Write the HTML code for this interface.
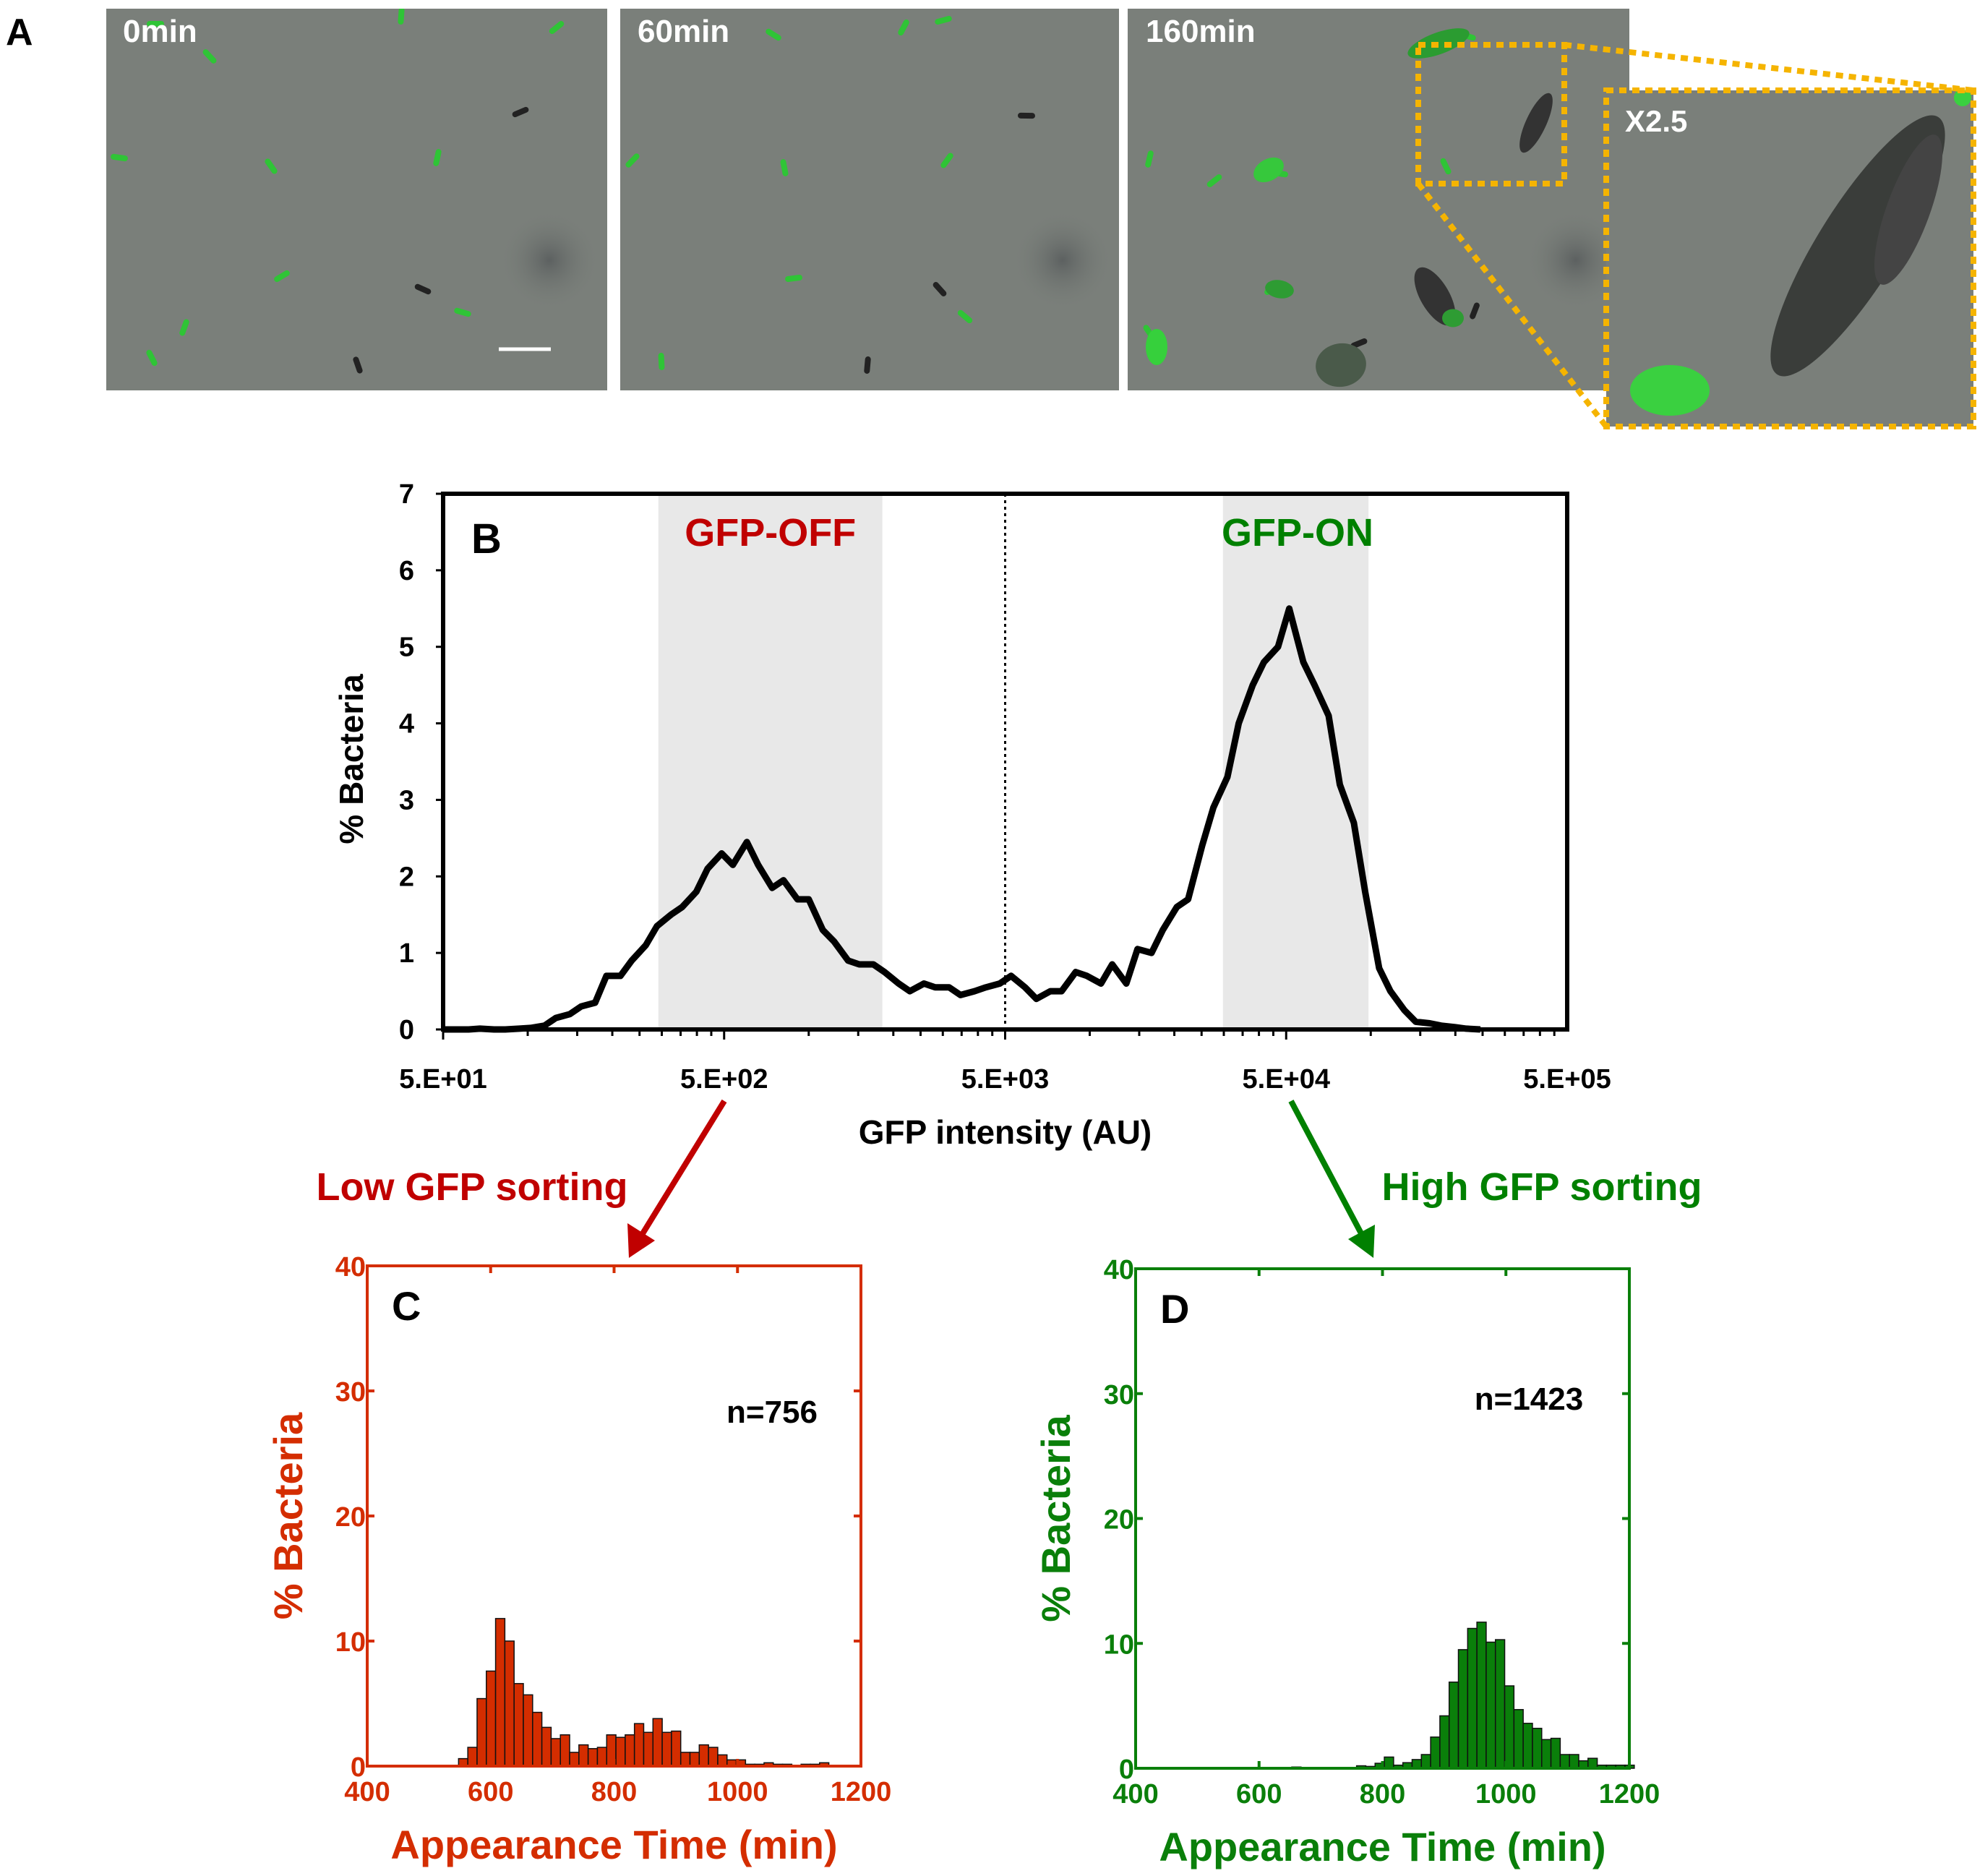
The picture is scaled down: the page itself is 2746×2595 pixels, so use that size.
<!DOCTYPE html>
<html><head><meta charset="utf-8"><style>
html,body{margin:0;padding:0;background:#fff}
svg{display:block}
text{font-family:"Liberation Sans",sans-serif;font-weight:bold}
</style></head><body>
<svg id="fig" width="2746" height="2595" viewBox="0 0 2746 2595" xmlns="http://www.w3.org/2000/svg">
<defs>
<radialGradient id="dark" cx="50%" cy="50%" r="50%"><stop offset="0" stop-color="#55595a" stop-opacity="0.8"/><stop offset="1" stop-color="#7a7f7a" stop-opacity="0"/></radialGradient>
<clipPath id="imgclip"><rect x="147" y="12" width="693" height="528"/><rect x="858" y="12" width="690" height="528"/><rect x="1560" y="12" width="694" height="528"/></clipPath>
<clipPath id="insetclip"><rect x="2222" y="125" width="508" height="465"/></clipPath>
</defs>
<g id="panelA">
<text x="8" y="62" font-size="52" fill="#000">A</text>
<rect x="147" y="12" width="693" height="528" fill="#7a7f7a"/>
<rect x="858" y="12" width="690" height="528" fill="#7a7f7a"/>
<rect x="1560" y="12" width="694" height="528" fill="#7a7f7a"/>
<circle cx="760" cy="360" r="70" fill="url(#dark)"/>
<circle cx="1470" cy="360" r="70" fill="url(#dark)"/>
<circle cx="2180" cy="360" r="70" fill="url(#dark)"/>
<g id="cells" clip-path="url(#imgclip)"></g>
<text x="170" y="58" font-size="44" fill="#fff">0min</text>
<text x="882" y="58" font-size="44" fill="#fff">60min</text>
<text x="1585" y="58" font-size="44" fill="#fff">160min</text>
<line x1="690" y1="483" x2="762" y2="483" stroke="#fff" stroke-width="5"/>
<rect x="2222" y="125" width="508" height="465" fill="#7a7f7a"/>
<g clip-path="url(#insetclip)">
<ellipse cx="2570" cy="340" rx="55" ry="210" fill="#3a3d3a" transform="rotate(32 2570 340)"/>
<ellipse cx="2640" cy="290" rx="30" ry="110" fill="#444" transform="rotate(20 2640 290)"/>
<ellipse cx="2310" cy="540" rx="55" ry="35" fill="#3ad040"/>
<circle cx="2715" cy="135" r="12" fill="#3ad040"/>
</g>
<text x="2248" y="182" font-size="42" fill="#fff">X2.5</text>
<g stroke="#f5b400" stroke-width="8" stroke-dasharray="10,8" fill="none">
<rect x="1962" y="62" width="202" height="192"/>
<rect x="2222" y="125" width="508" height="465"/>
<line x1="2164" y1="62" x2="2730" y2="125"/>
<line x1="1962" y1="254" x2="2222" y2="590"/>
</g>
</g>

<g id="panelB"></g>
<g id="panelC"></g>
<g id="panelD"></g>
</svg>
<script>
// ---- Panel B data ----
const logIntensity = [1.70,1.74,1.79,1.83,1.88,1.92,1.97,2.01,2.06,2.10,2.15,2.19,2.24,2.28,2.33,2.37,2.42,2.46,2.51,2.55,2.60,2.64,2.69,2.73,2.78,2.82,2.87,2.91,2.96,3.00,3.05,3.09,3.14,3.18,3.23,3.27,3.32,3.36,3.41,3.45,3.50,3.54,3.59,3.63,3.68,3.72,3.77,3.81,3.86,3.90,3.95,3.99,4.04,4.08,4.13,4.17,4.22,4.26,4.31,4.35,4.40,4.44,4.49,4.53,4.58,4.62,4.67,4.71,4.76,4.80,4.85,4.89,4.94,4.98,5.03,5.07,5.12,5.16,5.21,5.25,5.30,5.34,5.39];
const pctBacteriaB = [0,0,0,0.01,0,0,0.01,0.02,0.05,0.15,0.2,0.3,0.35,0.7,0.7,0.9,1.1,1.35,1.5,1.6,1.8,2.1,2.3,2.15,2.45,2.15,1.85,1.95,1.7,1.7,1.3,1.15,0.9,0.85,0.85,0.75,0.6,0.5,0.6,0.55,0.55,0.45,0.5,0.55,0.6,0.7,0.55,0.4,0.5,0.5,0.75,0.7,0.6,0.85,0.6,1.05,1.0,1.3,1.6,1.7,2.4,2.9,3.3,4.0,4.5,4.8,5.0,5.5,4.8,4.5,4.1,3.2,2.7,1.8,0.8,0.5,0.25,0.1,0.08,0.05,0.03,0.01,0];
const bTickLabels = ["5.E+01","5.E+02","5.E+03","5.E+04","5.E+05"];
const bTickLogs = [1.699,2.699,3.699,4.699,5.699];
const bYTicks = [0,1,2,3,4,5,6,7];
const offBand = [2.465,3.262];
const onBand = [4.474,4.992];
const threshold = [3.699];
// ---- Panel C/D data ----
const binStartC = [548];
const binWidth = [15];
const pctC = [0.6,1.5,5.4,7.6,11.8,10,6.6,5.7,4.3,3.1,2.2,2.5,1.1,1.7,1.4,1.5,2.5,2.3,2.5,3.4,2.7,3.8,2.7,2.8,1.1,1.1,1.7,1.5,0.9,0.5,0.5,0.15,0.15,0.27,0.15,0.15,0.05,0.15,0.15,0.27];
const binStartD = [608];
const pctD = [0.05,0.05,0,0.1,0.05,0,0.05,0.05,0.05,0,0.2,0.15,0.4,0.9,0.25,0.45,0.7,1.1,2.5,4.2,6.9,9.5,11.2,11.7,10.1,10.3,6.6,4.7,3.6,3.2,2.3,2.4,1.1,1.1,0.6,0.8,0.25,0.25,0.25,0.25];
const histXTicks = [400,600,800,1000,1200];
const histYTicks = [0,10,20,30,40];

const NS="http://www.w3.org/2000/svg";
function mk(parent,tag,attrs,txt){const e=document.createElementNS(NS,tag);for(const k in attrs)e.setAttribute(k,attrs[k]);if(txt!==undefined)e.textContent=txt;parent.appendChild(e);return e;}

// cells for microscopy
(function(){
 const g=document.getElementById('cells');
 const cells=[[215,33,1],[290,78,1],[555,22,1],[770,38,1],[165,218,1],[375,230,1],[605,218,1],[390,382,1],[640,432,1],[210,495,1],[255,453,1],[720,155,0],[585,400,0],[495,505,0],[1250,38,1],[1305,28,1],[1070,48,1],[1085,232,1],[1310,222,1],[1098,385,1],[1335,438,1],[915,500,1],[875,222,1],[1420,160,0],[1300,400,0],[1200,505,0],[1680,250,1],[1770,240,1],[1590,460,1],[1590,220,1],[1760,400,1],[2030,50,1],[2000,230,1],[2040,430,0],[1880,475,0]];
 cells.forEach((c,i)=>{
  const r=mk(g,'rect',{x:c[0]-12,y:c[1]-4,width:24,height:8,rx:4,fill:c[2]?'#2fc436':'#222',transform:'rotate('+(i*47%180)+' '+c[0]+' '+c[1]+')'});
  
  
 });
 const clusters=[[1990,60,90,30,'#2b9c31',-20],[1855,505,70,60,'#4a5a4a',-10],[1985,410,40,90,'#333',-30],[2125,170,28,90,'#333',25],[1755,235,45,30,'#36c83c',-30],[1770,400,40,25,'#2e9c33',10],[1600,480,30,50,'#36d03c',0],[2010,440,30,25,'#2e9c33',0]];
 clusters.forEach((c)=>{
  const e=mk(g,'ellipse',{cx:c[0],cy:c[1],rx:c[2]/2,ry:c[3]/2,fill:c[4],transform:'rotate('+c[5]+' '+c[0]+' '+c[1]+')'});
  
  
 });
})();

// Panel B
(function(){
 const g=document.getElementById('panelB');
 const L=613,R=2168,T=683,B=1424;
 const xs=v=>L+(v-1.699)/(5.699-1.699)*(R-L);
 const ys=v=>B-v/7*(B-T);
 let e=mk(g,'rect',{x:xs(offBand[0]),y:T,width:xs(offBand[1])-xs(offBand[0]),height:B-T,fill:'#e8e8e8'});
 
 
 e=mk(g,'rect',{x:xs(onBand[0]),y:T,width:xs(onBand[1])-xs(onBand[0]),height:B-T,fill:'#e8e8e8'});
 
 
 e=mk(g,'line',{x1:xs(threshold[0]),x2:xs(threshold[0]),y1:T,y2:B,stroke:'#000','stroke-width':3,'stroke-dasharray':'4,5'});
 
 
 const pts=logIntensity.map((v,i)=>xs(v).toFixed(1)+','+ys(pctBacteriaB[i]).toFixed(1)).join(' ');
 e=mk(g,'polyline',{points:pts,fill:'none',stroke:'#000','stroke-width':9,'stroke-linejoin':'round'});
 
 
 e=mk(g,'rect',{x:L,y:T,width:R-L,height:B-T,fill:'none',stroke:'#000','stroke-width':6});
 
 
 bYTicks.forEach(v=>{
  const t=mk(g,'text',{x:L-40,y:ys(v)+13,'font-size':38,'text-anchor':'end',fill:'#000'},String(v));
  
  
  mk(g,'line',{x1:L-10,x2:L,y1:ys(v),y2:ys(v),stroke:'#000','stroke-width':3});
 });
 bTickLogs.forEach((v,i)=>{
  const t=mk(g,'text',{x:xs(v),y:1505,'font-size':38,'text-anchor':'middle',fill:'#000'},bTickLabels[i]);
  
  
  for(let k=1;k<=9&&i<4;k++){const lx=xs(v+Math.log10(k));mk(g,'line',{x1:lx,x2:lx,y1:B,y2:B+(k===1?14:9),stroke:'#000','stroke-width':3});}
 });
 let t=mk(g,'text',{x:xs(3.699),y:1582,'font-size':46,'text-anchor':'middle',fill:'#000'},'GFP intensity (AU)');
 
 t=mk(g,'text',{x:0,y:0,'font-size':46,'text-anchor':'middle',fill:'#000',transform:'translate(502,1050) rotate(-90)'},'% Bacteria');
 
 t=mk(g,'text',{x:652,y:765,'font-size':58,fill:'#000'},'B');
 
 t=mk(g,'text',{x:(xs(offBand[0])+xs(offBand[1]))/2,y:755,'font-size':54,'text-anchor':'middle',fill:'#c00000'},'GFP-OFF');
 
 t=mk(g,'text',{x:1795,y:755,'font-size':54,'text-anchor':'middle',fill:'#008000'},'GFP-ON');
 
 e=mk(g,'line',{x1:1002,y1:1523,x2:888,y2:1708,stroke:'#c00000','stroke-width':8});
 
 mk(g,'polygon',{points:'870,1740 868,1692 906,1716',fill:'#c00000'});
 e=mk(g,'line',{x1:1786,y1:1523,x2:1884,y2:1708,stroke:'#008000','stroke-width':8});
 
 mk(g,'polygon',{points:'1900,1740 1865,1714 1902,1694',fill:'#008000'});
 t=mk(g,'text',{x:653,y:1660,'font-size':54,'text-anchor':'middle',fill:'#c00000'},'Low GFP sorting');
 
 t=mk(g,'text',{x:2133,y:1660,'font-size':54,'text-anchor':'middle',fill:'#008000'},'High GFP sorting');
 
})();

function hist(id,L,T,R,B,color,start,vals,letter,nText,nx,ny,ytx){
 const g=document.getElementById(id);
 const xs=v=>L+(v-400)/800*(R-L);
 const ys=v=>B-v/40*(B-T);
 vals.forEach((v,i)=>{
  const x0=xs(start+i*binWidth[0]);
  const r=mk(g,'rect',{x:x0,y:ys(v),width:xs(start+(i+1)*binWidth[0])-x0,height:B-ys(v),fill:color,stroke:'#111','stroke-width':1.5});
  
  
 });
 let e=mk(g,'rect',{x:L,y:T,width:R-L,height:B-T,fill:'none',stroke:color,'stroke-width':4});
 
 histYTicks.forEach(v=>{
  mk(g,'line',{x1:L,x2:L+10,y1:ys(v),y2:ys(v),stroke:color,'stroke-width':4});
  mk(g,'line',{x1:R-10,x2:R,y1:ys(v),y2:ys(v),stroke:color,'stroke-width':4});
  const t=mk(g,'text',{x:L-2,y:ys(v)+14,'font-size':38,'text-anchor':'end',fill:color},String(v));
  
 });
 histXTicks.forEach(v=>{
  mk(g,'line',{x1:xs(v),x2:xs(v),y1:B,y2:B-10,stroke:color,'stroke-width':4});
  mk(g,'line',{x1:xs(v),x2:xs(v),y1:T,y2:T+10,stroke:color,'stroke-width':4});
  const t=mk(g,'text',{x:xs(v),y:B+48,'font-size':38,'text-anchor':'middle',fill:color},String(v));
  
 });
 let t=mk(g,'text',{x:(L+R)/2,y:B+128,'font-size':56,'text-anchor':'middle',fill:color},'Appearance Time (min)');
 
 t=mk(g,'text',{x:0,y:0,'font-size':56,'text-anchor':'middle',fill:color,transform:'translate('+ytx+','+((T+B)/2)+') rotate(-90)'},'% Bacteria');
 
 t=mk(g,'text',{x:L+34,y:T+75,'font-size':56,fill:'#000'},letter);
 
 t=mk(g,'text',{x:nx,y:ny,'font-size':44,'text-anchor':'middle',fill:'#000'},nText);
 
}
hist('panelC',508,1751,1191,2443,'#d42d00',binStartC[0],pctC,'C','n=756',1068,1968,418);
hist('panelD',1571,1755,2254,2446,'#0a7f0a',binStartD[0],pctD,'D','n=1423',2115,1950,1480);
</script>
</body></html>
